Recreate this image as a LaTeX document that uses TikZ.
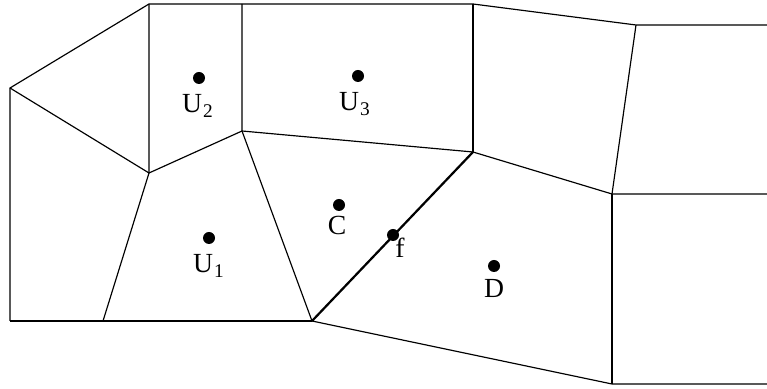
\documentclass[tikz,border=0pt]{standalone}
\usepackage{fontspec}
\setmainfont{Liberation Serif}
\usetikzlibrary{positioning}

\begin{document}
\begin{tikzpicture}[x=0.015cm,y=-0.015cm,line join=miter]
  \tikzset{
    edge/.style={black,line width=.5pt},
    cut/.style={black,line width=.95pt},
    site/.style={circle,fill=black,inner sep=0pt,minimum size=.18cm},
    lbl/.style={anchor=base,inner sep=0pt,font=\fontsize{11.8}{14}\selectfont}
  }
  \useasboundingbox (0,0) rectangle (767,389);

  % Cell corners.
  \coordinate (A) at (149,4);
  \coordinate (B) at (10,88);
  \coordinate (T2) at (242,4);
  \coordinate (T3) at (473,4);
  \coordinate (T4) at (636,25);
  \coordinate (R1) at (767,25);
  \coordinate (E) at (242,131);
  \coordinate (F) at (149,173);
  \coordinate (G) at (473,152);
  \coordinate (H) at (612,194);
  \coordinate (R2) at (767,194);
  \coordinate (BL) at (10,321);
  \coordinate (K) at (103,321);
  \coordinate (M) at (312,321);
  \coordinate (N) at (612,384);
  \coordinate (R3) at (767,384);

  % Cell walls.
  \draw[edge] (BL)--(B)--(A)--(T2)--(T3)--(T4)--(R1);
  \draw[edge] (BL)--(K)--(M);
  \draw[edge] (B)--(F)--(E)--(G)--(H)--(R2);
  \draw[edge] (A)--(F)--(K);
  \draw[edge] (T2)--(E)--(M);
  \draw[edge] (T3)--(G); \draw[edge] (T4)--(H);
  \draw[edge] (M)--(N)--(R3); \draw[edge] (H)--(N);
  \draw[cut] (M)--(G);

  % Sites and labels.
  \node[site] (U2) at (199,78) {};
  \node[lbl] (U2l) at (198,113) {U\kern.5pt\textsubscript{2}};
  \node[site] (U3) at (358,76) {};
  \node[lbl] (U3l) at (355,111) {U\kern.5pt\textsubscript{3}};
  \node[site] (U1) at (209,238) {};
  \node[lbl] (U1l) at (209,273) {U\kern.5pt\textsubscript{1}};
  \node[site] (C) at (339,205) {};
  \node[lbl] (Cl) at (337,235) {C};
  \node[site] (f) at (393,235) {};
  \node[lbl] (fl) at (400,258) {f};
  \node[site] (D) at (494,266) {};
  \node[lbl] (Dl) at (494,298) {D};
\end{tikzpicture}
\end{document}
